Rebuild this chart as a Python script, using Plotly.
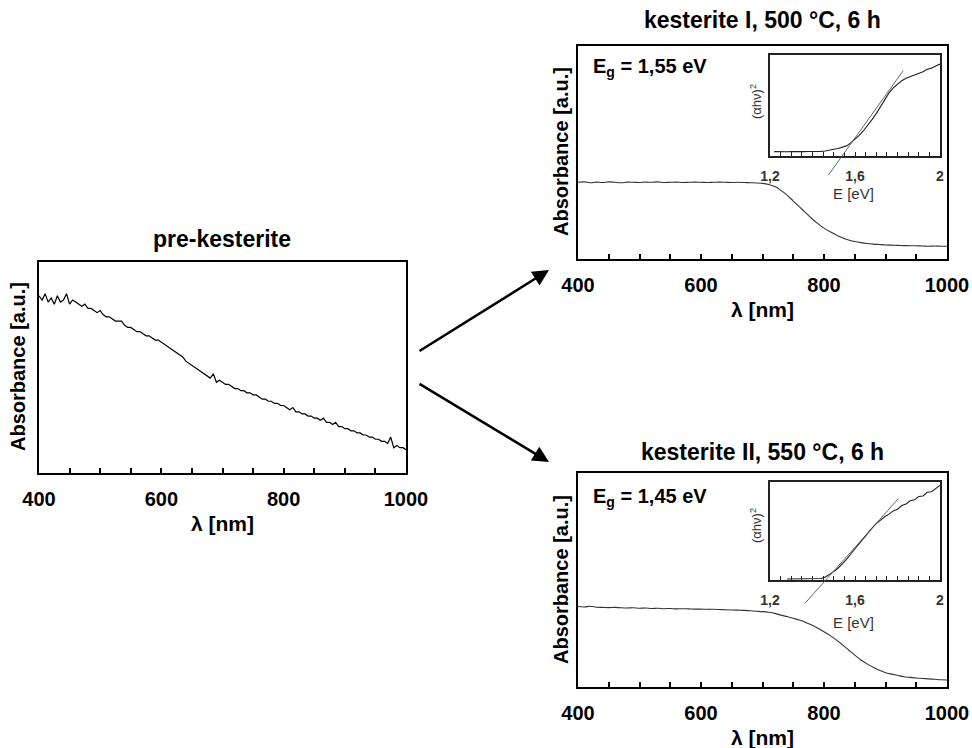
import plotly.graph_objects as go

W, H = 972, 748
OFF = 0
FONT = "Liberation Sans, Arial, sans-serif"

# ---------------- data ----------------
pre_wl = list(range(400, 1001, 5))
pre_abs = [0.84, 0.82, 0.85, 0.81, 0.83, 0.80, 0.84, 0.81, 0.82, 0.85, 0.80, 0.82, 0.81, 0.80, 0.79,
           0.80, 0.78, 0.78, 0.77, 0.76, 0.77, 0.75, 0.74, 0.74, 0.73, 0.72, 0.72, 0.72, 0.70, 0.69,
           0.69, 0.68, 0.67, 0.67, 0.66, 0.65, 0.65, 0.64, 0.63, 0.63, 0.62, 0.61, 0.60, 0.59, 0.58,
           0.57, 0.56, 0.55, 0.53, 0.52, 0.51, 0.50, 0.49, 0.48, 0.47, 0.46, 0.45, 0.47, 0.43, 0.44,
           0.43, 0.42, 0.42, 0.41, 0.40, 0.40, 0.39, 0.39, 0.38, 0.38, 0.37, 0.37, 0.36, 0.35, 0.35,
           0.34, 0.34, 0.33, 0.33, 0.32, 0.32, 0.31, 0.30, 0.31, 0.29, 0.29, 0.28, 0.28, 0.27, 0.27,
           0.26, 0.26, 0.25, 0.26, 0.24, 0.24, 0.23, 0.24, 0.22, 0.22, 0.21, 0.21, 0.20, 0.20, 0.19,
           0.19, 0.18, 0.18, 0.17, 0.17, 0.16, 0.16, 0.15, 0.15, 0.14, 0.17, 0.12, 0.13, 0.12, 0.12,
           0.11]

k1_wl = list(range(400, 1001, 10))
k1_abs = [0.360, 0.362, 0.358, 0.361, 0.359, 0.362, 0.360, 0.358, 0.361, 0.360, 0.359, 0.361, 0.360,
          0.362, 0.359, 0.360, 0.361, 0.359, 0.360, 0.361, 0.360, 0.359, 0.360, 0.361, 0.360, 0.359,
          0.360, 0.359, 0.358, 0.357, 0.355, 0.350, 0.340, 0.322, 0.300, 0.272, 0.245, 0.218, 0.190,
          0.166, 0.145, 0.128, 0.113, 0.100, 0.089, 0.082, 0.077, 0.073, 0.070, 0.068, 0.066, 0.065,
          0.064, 0.063, 0.062, 0.062, 0.061, 0.060, 0.061, 0.060, 0.060]

k2_wl = list(range(400, 1001, 10))
k2_abs = [0.376, 0.374, 0.377, 0.373, 0.372, 0.371, 0.372, 0.370, 0.369, 0.370, 0.368, 0.369, 0.367,
          0.368, 0.366, 0.367, 0.365, 0.366, 0.365, 0.364, 0.364, 0.363, 0.363, 0.362, 0.361, 0.360,
          0.359, 0.358, 0.356, 0.354, 0.352, 0.349, 0.344, 0.336, 0.329, 0.321, 0.313, 0.302, 0.290,
          0.275, 0.258, 0.240, 0.220, 0.197, 0.173, 0.149, 0.126, 0.108, 0.092, 0.078, 0.067, 0.060,
          0.054, 0.048, 0.045, 0.042, 0.040, 0.038, 0.036, 0.034, 0.033]

ins1_E = [1.22, 1.24, 1.26, 1.28, 1.30, 1.32, 1.34, 1.36, 1.38, 1.40, 1.42, 1.44, 1.46, 1.48, 1.50,
          1.52, 1.54, 1.56, 1.58, 1.60, 1.62, 1.64, 1.66, 1.68, 1.70, 1.72, 1.74, 1.76, 1.78, 1.80,
          1.82, 1.84, 1.86, 1.88, 1.90, 1.92, 1.94, 1.96, 1.98, 2.00]
ins1_y = [0.043, 0.041, 0.044, 0.042, 0.043, 0.041, 0.044, 0.043, 0.045, 0.044, 0.046, 0.046, 0.049,
          0.055, 0.066, 0.075, 0.088, 0.100, 0.130, 0.165, 0.205, 0.250, 0.300, 0.360, 0.420, 0.490,
          0.565, 0.625, 0.675, 0.715, 0.745, 0.770, 0.785, 0.800, 0.818, 0.835, 0.858, 0.870, 0.892,
          0.910]
ins1_fit_E = [1.475, 1.827]
ins1_fit_y = [-0.188, 0.845]

ins2_E = [1.28, 1.30, 1.32, 1.34, 1.36, 1.38, 1.40, 1.42, 1.44, 1.46, 1.48, 1.50, 1.52, 1.54, 1.56,
          1.58, 1.60, 1.62, 1.64, 1.66, 1.68, 1.70, 1.72, 1.74, 1.76, 1.78, 1.80, 1.82, 1.84, 1.86,
          1.88, 1.90, 1.92, 1.94, 1.96, 1.98, 2.00]
ins2_y = [0.010, 0.011, 0.009, 0.010, 0.012, 0.010, 0.011, 0.012, 0.016, 0.030, 0.055, 0.085, 0.120,
          0.160, 0.210, 0.265, 0.320, 0.370, 0.425, 0.475, 0.530, 0.576, 0.612, 0.645, 0.672, 0.705,
          0.722, 0.760, 0.775, 0.808, 0.818, 0.852, 0.858, 0.895, 0.900, 0.938, 0.966]
ins2_fit_E = [1.365, 1.804]
ins2_fit_y = [-0.237, 0.830]

wl_ticks = [400, 600, 800, 1000]
E_ticks = [1.2, 1.6, 2.0]
E_ticktext = ["1,2", "1,6", "2"]

# ---------------- layout helpers ----------------
def px_x(p):
    return (p - OFF) / W

def px_y(p):
    return 1 - (p - OFF) / H

fig = go.Figure()

fig.add_trace(go.Scatter(x=pre_wl, y=pre_abs, mode="lines", line=dict(color="#000", width=1.2),
                         xaxis="x", yaxis="y", showlegend=False))
fig.add_trace(go.Scatter(x=k1_wl, y=k1_abs, mode="lines", line=dict(color="#333", width=1.1),
                         line_shape="spline", xaxis="x2", yaxis="y2", showlegend=False))
fig.add_trace(go.Scatter(x=k2_wl, y=k2_abs, mode="lines", line=dict(color="#333", width=1.1),
                         line_shape="spline", xaxis="x3", yaxis="y3", showlegend=False))
fig.add_trace(go.Scatter(x=ins1_E, y=ins1_y, mode="lines", line=dict(color="#222", width=1.1),
                         xaxis="x4", yaxis="y4", showlegend=False))
fig.add_trace(go.Scatter(x=ins2_E, y=ins2_y, mode="lines", line=dict(color="#222", width=1.1),
                         xaxis="x5", yaxis="y5", showlegend=False))
fig.add_trace(go.Scatter(x=ins1_fit_E, y=ins1_fit_y, mode="lines", line=dict(color="#555", width=0.9),
                         xaxis="x6", yaxis="y6", showlegend=False))
fig.add_trace(go.Scatter(x=ins2_fit_E, y=ins2_fit_y, mode="lines", line=dict(color="#555", width=0.9),
                         xaxis="x7", yaxis="y7", showlegend=False))

def main_x(domain, anchor):
    return dict(domain=domain, anchor=anchor, range=[400, 1000], tickvals=wl_ticks,
                ticks="inside", ticklen=5, tickwidth=1.5, tickcolor="#000",
                minor=dict(tickmode="linear", tick0=400, dtick=50, ticks="inside", ticklen=5,
                           tickwidth=1.5, tickcolor="#000"),
                showline=True, linecolor="#000", linewidth=2, mirror=True, showgrid=False,
                zeroline=False, ticklabelstandoff=7, automargin=False,
                tickfont=dict(family=FONT, size=20, color="#000", weight="bold"))

def main_y(domain, anchor):
    return dict(domain=domain, anchor=anchor, range=[0, 1], showticklabels=False, ticks="",
                showline=True, linecolor="#000", linewidth=2, mirror=True, showgrid=False,
                zeroline=False, automargin=False)

def ins_x(domain, anchor):
    return dict(domain=domain, anchor=anchor, range=[1.2, 2.0], tickvals=E_ticks,
                ticktext=E_ticktext, ticks="inside", ticklen=4, tickwidth=1.2, tickcolor="#222",
                minor=dict(tickmode="linear", tick0=1.2, dtick=0.05, ticks="inside", ticklen=4,
                           tickwidth=1.2, tickcolor="#222"),
                showline=True, linecolor="#222", linewidth=1.6, mirror=True, showgrid=False,
                zeroline=False, ticklabelstandoff=6, automargin=False,
                tickfont=dict(family=FONT, size=14, color="#333", weight="bold"))

def ins_y(domain, anchor):
    return dict(domain=domain, anchor=anchor, range=[0, 1], showticklabels=False, ticks="",
                showline=True, linecolor="#222", linewidth=1.6, mirror=True, showgrid=False,
                zeroline=False, automargin=False)

def hidden(domain, anchor, rng):
    return dict(domain=domain, anchor=anchor, range=rng, visible=False, showgrid=False,
                zeroline=False, automargin=False)

L_x = [px_x(39), px_x(406)]
L_y = [px_y(473), px_y(262)]
T_x = [px_x(578), px_x(947)]
T_y = [px_y(259), px_y(46)]
B_x = [px_x(578), px_x(947)]
B_y = [px_y(687), px_y(473)]
I1_x = [px_x(770), px_x(940)]
I1_y = [px_y(156), px_y(55)]
I2_x = [px_x(770), px_x(940)]
I2_y = [px_y(580), px_y(482)]

ext = 0.3
I1_yext = [I1_y[0] - ext * (I1_y[1] - I1_y[0]), I1_y[1]]
I2_yext = [I2_y[0] - ext * (I2_y[1] - I2_y[0]), I2_y[1]]

fig.update_layout(
    width=W, height=H, margin=dict(l=0, r=0, t=0, b=0, autoexpand=False),
    paper_bgcolor="white", plot_bgcolor="rgba(0,0,0,0)",
    font=dict(family=FONT, color="#000"),
    xaxis=main_x(L_x, "y"), yaxis=main_y(L_y, "x"),
    xaxis2=main_x(T_x, "y2"), yaxis2=main_y(T_y, "x2"),
    xaxis3=main_x(B_x, "y3"), yaxis3=main_y(B_y, "x3"),
    xaxis4=ins_x(I1_x, "y4"), yaxis4=ins_y(I1_y, "x4"),
    xaxis5=ins_x(I2_x, "y5"), yaxis5=ins_y(I2_y, "x5"),
    xaxis6=hidden(I1_x, "y6", [1.2, 2.0]), yaxis6=hidden(I1_yext, "x6", [-ext, 1]),
    xaxis7=hidden(I2_x, "y7", [1.2, 2.0]), yaxis7=hidden(I2_yext, "x7", [-ext, 1]),
)

ann = []
def text(s, xp, yp, size=20, bold=True, color="#000", angle=0, xanchor="center"):
    ann.append(dict(text=f"<b>{s}</b>" if bold else s, x=px_x(xp), y=px_y(yp), xref="paper",
                    yref="paper", showarrow=False, xanchor=xanchor, yanchor="middle",
                    textangle=angle, font=dict(family=FONT, size=size, color=color)))

# titles
text("pre-kesterite", 222, 239, size=23)
text("kesterite I, 500 °C, 6 h", 762, 20, size=23)
text("kesterite II, 550 °C, 6 h", 762, 452, size=23)
# x-axis titles
text("λ [nm]", 222, 523, size=21)
text("λ [nm]", 762, 309, size=21)
text("λ [nm]", 762, 737, size=21)
# y-axis titles
text("Absorbance [a.u.]", 18, 367, size=20, angle=-90)
text("Absorbance [a.u.]", 561, 152, size=20, angle=-90)
text("Absorbance [a.u.]", 561, 580, size=20, angle=-90)
# band gaps
text("E<sub>g</sub> = 1,55 eV", 591, 67, size=20, xanchor="left")
text("E<sub>g</sub> = 1,45 eV", 591, 497, size=20, xanchor="left")
# inset titles
text("(αhν)<sup>2</sup>", 756, 102, size=13, bold=False, color="#333", angle=-90)
text("(αhν)<sup>2</sup>", 756, 526, size=13, bold=False, color="#333", angle=-90)
text("E [eV]", 853, 194, size=15, bold=False, color="#333")
text("E [eV]", 853, 622, size=15, bold=False, color="#333")

# arrows
ann.append(dict(x=px_x(549), y=px_y(270), xref="paper", yref="paper", ax=-131, ay=82,
                axref="pixel", ayref="pixel", showarrow=True, arrowhead=2, arrowsize=1.3,
                arrowwidth=2.5, arrowcolor="#000", text=""))
ann.append(dict(x=px_x(549), y=px_y(462), xref="paper", yref="paper", ax=-131, ay=-79,
                axref="pixel", ayref="pixel", showarrow=True, arrowhead=2, arrowsize=1.3,
                arrowwidth=2.5, arrowcolor="#000", text=""))

fig.update_layout(annotations=ann)
fig.write_html("out.html", config={"displayModeBar": False},
               post_script="document.body.style.margin='0px';document.body.style.overflow='hidden';")
